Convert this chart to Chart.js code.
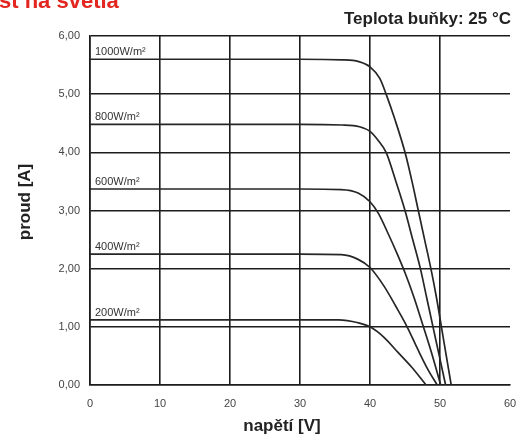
<!DOCTYPE html>
<html>
<head>
<meta charset="utf-8">
<script src="https://cdn.jsdelivr.net/npm/chart.js@4.4.1/dist/chart.umd.min.js"></script>
<style>
  body { margin: 0; background: #fff; }
  #obal { width: 521px; height: 437px; position: relative; }
</style>
</head>
<body>
<div id="obal"><canvas id="graf"></canvas></div>
<script>
// I-V charakteristika

var napisy = ['1000W/m²', '800W/m²', '600W/m²', '400W/m²', '200W/m²'];

var napeti1000 = [0, 10, 20, 30, 36.0, 38.4, 40, 41.4, 42.3, 43.6, 45.0, 46.0, 46.9, 47.8, 48.7, 49.5, 50.2, 50.9, 51.6];
var proud1000  = [5.60, 5.60, 5.60, 5.60, 5.59, 5.56, 5.47, 5.27, 5.00, 4.55, 4.00, 3.50, 3.00, 2.50, 2.00, 1.50, 1.00, 0.50, 0];

var napeti800 = [0, 10, 20, 30, 36.0, 38.5, 40, 41.2, 42.3, 43.7, 45.0, 46.1, 47.2, 48.1, 49.0, 49.9, 50.8];
var proud800  = [4.48, 4.48, 4.48, 4.48, 4.47, 4.44, 4.36, 4.20, 4.00, 3.50, 3.00, 2.50, 2.00, 1.50, 1.00, 0.50, 0];

var napeti600 = [0, 10, 20, 30, 35.9, 38.3, 40, 41.2, 42.6, 43.9, 45.1, 46.3, 47.5, 48.8, 50.1];
var proud600  = [3.37, 3.37, 3.37, 3.37, 3.36, 3.30, 3.15, 2.95, 2.60, 2.25, 1.90, 1.50, 1.05, 0.55, 0];

var napeti400 = [0, 10, 20, 30, 35.9, 38.3, 40, 42.0, 43.7, 45.3, 46.8, 48.3, 49.6];
var proud400  = [2.25, 2.25, 2.25, 2.25, 2.24, 2.16, 2.02, 1.70, 1.35, 1.00, 0.62, 0.26, 0];

var napeti200 = [0, 10, 20, 30, 35.5, 38.3, 40, 42.0, 44.0, 46.0, 48.0];
var proud200  = [1.12, 1.12, 1.12, 1.12, 1.12, 1.07, 1.00, 0.82, 0.56, 0.30, 0];

var osaX = [0, 10, 20, 30, 40, 50, 60];
var osaY = [0, 1, 2, 3, 4, 5, 6];

function body(u, i) {
    return u.map(function (v, k) { return { x: v, y: i[k] }; });
}

var rady = [
    body(napeti1000, proud1000),
    body(napeti800, proud800),
    body(napeti600, proud600),
    body(napeti400, proud400),
    body(napeti200, proud200)
];

var pismo = "'Liberation Sans', Arial, sans-serif";
var mriz = '#1c1c1c';

// popisky krivek, nadpis a nazvy os
var popisky = {
    id: 'popisky',
    afterDatasetsDraw: function (chart) {
        var c = chart.ctx;
        var sx = chart.scales.x, sy = chart.scales.y;
        c.save();
        c.fillStyle = '#333';
        c.font = '11px ' + pismo;
        c.textAlign = 'left';
        c.textBaseline = 'alphabetic';
        chart.data.datasets.forEach(function (ds) {
            var px = sx.getPixelForValue(0) + 5;
            var py = sy.getPixelForValue(ds.data[0].y) - 4;
            c.fillText(ds.label, px, py);
        });
        c.restore();
    },
    afterDraw: function (chart) {
        var c = chart.ctx;
        c.save();
        c.fillStyle = '#e3261f';
        c.font = 'bold 22px ' + pismo;
        c.textAlign = 'left';
        c.fillText('st na světla', -1, 8);

        c.fillStyle = '#222';
        c.font = 'bold 17px ' + pismo;
        c.textAlign = 'right';
        c.fillText('Teplota buňky: 25 °C', 511, 24);

        c.textAlign = 'center';
        c.fillText('napětí [V]', 282, 431);

        c.translate(25, 202);
        c.rotate(-Math.PI / 2);
        c.textBaseline = 'middle';
        c.fillText('proud [A]', 0, 0);
        c.restore();
    }
};

var ctx = document.getElementById('graf').getContext('2d');
var chart = new Chart(ctx, {
    type: 'line',
    data: {
        datasets: rady.map(function (r, k) {
            return {
                label: napisy[k],
                data: r,
                borderColor: '#262626',
                borderWidth: 1.7,
                pointRadius: 0,
                fill: false,
                cubicInterpolationMode: 'monotone'
            };
        })
    },
    options: {
        responsive: true,
        maintainAspectRatio: false,
        animation: false,
        layout: { padding: { top: 36, right: 11, left: 0, bottom: 0 } },
        plugins: {
            legend: { display: false },
            tooltip: { enabled: false }
        },
        scales: {
            x: {
                type: 'linear',
                min: osaX[0],
                max: osaX[osaX.length - 1],
                afterBuildTicks: function (s) { s.ticks = osaX.map(function (v) { return { value: v }; }); },
                afterFit: function (s) { s.height = 52; s.paddingRight = 0; },
                grid: {
                    color: function (c) { return c.tick && c.tick.value === 60 ? 'rgba(0,0,0,0)' : mriz; },
                    lineWidth: 1.6,
                    drawTicks: false
                },
                border: { color: mriz, width: 1.6 },
                ticks: {
                    padding: 12,
                    color: '#444',
                    font: { family: pismo, size: 11 }
                }
            },
            y: {
                min: osaY[0],
                max: osaY[osaY.length - 1],
                afterBuildTicks: function (s) { s.ticks = osaY.map(function (v) { return { value: v }; }); },
                afterFit: function (s) { s.width = 90; },
                grid: { color: mriz, lineWidth: 1.6, drawTicks: false },
                border: { color: mriz, width: 1.6 },
                ticks: {
                    padding: 10,
                    color: '#444',
                    font: { family: pismo, size: 11 },
                    callback: function (v) { return v.toFixed(2).replace('.', ','); }
                }
            }
        }
    },
    plugins: [popisky]
});
</script>
</body>
</html>
